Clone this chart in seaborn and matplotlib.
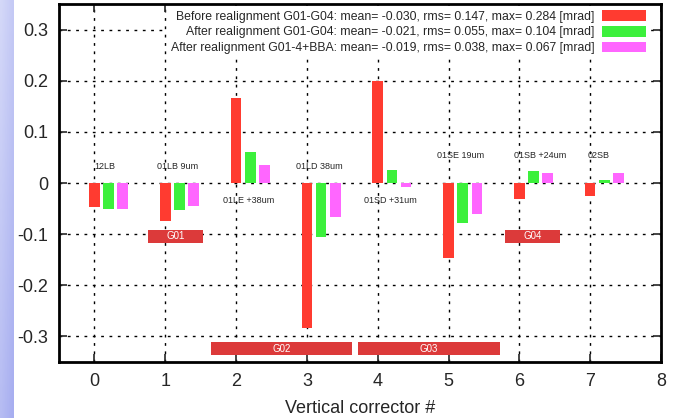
import numpy as np
import pandas as pd
import matplotlib
matplotlib.use("Agg")
import matplotlib.pyplot as plt
import matplotlib.transforms as mtransforms
from matplotlib.patches import Patch
import seaborn as sns

# corrector index and kick values [mrad]
correctors = [0, 1, 2, 3, 4, 5, 6, 7]
before = [-0.047, -0.075, 0.166, -0.284, 0.199, -0.147, -0.032, -0.025]
after = [-0.051, -0.053, 0.061, -0.105, 0.025, -0.079, 0.023, 0.005]
after_bba = [-0.051, -0.045, 0.035, -0.067, -0.008, -0.061, 0.020, 0.019]

series_names = [
    "Before realignment G01-G04: mean= -0.030, rms= 0.147, max= 0.284 [mrad]",
    "After realignment G01-G04: mean= -0.021, rms= 0.055, max= 0.104 [mrad]",
    "After realignment G01-4+BBA: mean= -0.019, rms= 0.038, max= 0.067 [mrad]",
]
colors = ["#ff3b30", "#3cf03c", "#ff66ff"]

# magnet labels next to each corrector
mag_labels = ["12LB", "01LB 9um", "01LE +38um", "01LD 38um",
              "01SD +31um", "01SE 19um", "01SB +24um", "02SB"]
mag_x = [0.0, 0.88, 1.81, 2.85, 3.81, 4.84, 5.93, 6.97]
mag_y = [0.033, 0.033, -0.035, 0.033, -0.035, 0.054, 0.054, 0.054]

# girder boxes: name, x start, x end, y bottom, y top
girders = ["G01", "G02", "G03", "G04"]
girder_x0 = [0.755, 1.65, 3.72, 5.80]
girder_x1 = [1.535, 3.63, 5.72, 6.58]
girder_y0 = [-0.118, -0.337, -0.337, -0.118]
girder_y1 = [-0.091, -0.311, -0.311, -0.091]

df = pd.DataFrame({
    "corrector": correctors * 3,
    "value": before + after + after_bba,
    "series": sum([[s] * len(correctors) for s in series_names], []),
})

sns.set_style("white")
plt.rcParams["font.family"] = ["Liberation Sans", "DejaVu Sans"]

fig = plt.figure(figsize=(6.73, 4.18), dpi=100)
ax = fig.add_axes([59 / 673, 1 - 362 / 418, 602 / 673, 358 / 418])

# slide background strip on the left
strip = fig.add_axes([0, 0, 14 / 673, 1])
grad = np.linspace(0, 1, 50)[:, None] * np.ones((50, 6))
grad = grad + np.linspace(0, 0.5, 6)[None, :]
strip.imshow(grad, cmap=sns.blend_palette(["#d4d8f8", "#a7aef0"], as_cmap=True),
             aspect="auto", origin="upper")
strip.axis("off")

shift = mtransforms.Affine2D().translate(0.2, 0) + ax.transData
sns.barplot(data=df, x="corrector", y="value", hue="series", palette=colors,
            saturation=1, native_scale=True, dodge=True, width=0.6, gap=0.25,
            linewidth=0, errorbar=None, legend=False, ax=ax, transform=shift)

ax.set_xlim(-0.5, 8)
ax.set_ylim(-0.35, 0.35)
ax.set_xticks(range(0, 9))
ax.set_yticks([-0.3, -0.2, -0.1, 0, 0.1, 0.2, 0.3])
ax.set_yticklabels(["-0.3", "-0.2", "-0.1", "0", "0.1", "0.2", "0.3"])
ax.tick_params(labelsize=13, direction="in", length=6, width=1.2,
               top=True, right=True, bottom=True, left=True, pad=8)
ax.grid(True, color="black", linestyle=(0, (2, 4)), linewidth=1)
ax.set_axisbelow(True)
for sp in ax.spines.values():
    sp.set_visible(True)
    sp.set_linewidth(2)
    sp.set_color("black")
ax.set_xlabel("Vertical corrector #", fontsize=13, labelpad=7)
ax.set_ylabel("")

for lab, xx, yy in zip(mag_labels, mag_x, mag_y):
    ax.text(xx, yy, lab, fontsize=6.5, ha="left", va="center", zorder=5)

for name, x0, x1, y0, y1 in zip(girders, girder_x0, girder_x1, girder_y0, girder_y1):
    ax.add_patch(plt.Rectangle((x0, y0), x1 - x0, y1 - y0, facecolor="#dc3a3a",
                               edgecolor="none", zorder=4))
    ax.text((x0 + x1) / 2, (y0 + y1) / 2, name, color="white", fontsize=7,
            ha="center", va="center", zorder=5)

handles = [Patch(facecolor=c, edgecolor="none") for c in colors]
leg = ax.legend(handles, series_names, loc="upper right", frameon=True,
                markerfirst=False, fontsize=8.8, handlelength=3.6,
                handleheight=1.0, labelspacing=0.25, handletextpad=0.6,
                borderpad=0.3, borderaxespad=0.2, fancybox=False,
                bbox_to_anchor=(0.985, 1.0))
leg.get_frame().set_facecolor("white")
leg.get_frame().set_edgecolor("none")
leg.get_frame().set_alpha(1)

fig.savefig("out.png", dpi=100)
